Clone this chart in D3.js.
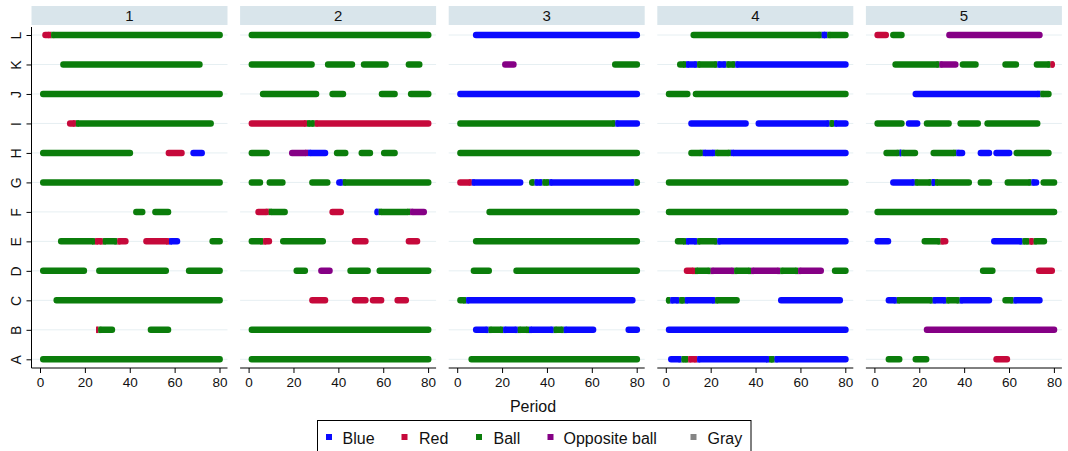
<!DOCTYPE html>
<html>
<head>
<meta charset="utf-8">
<script src="https://cdn.jsdelivr.net/npm/d3@7"></script>
<style>
  body { margin: 0; background: #fff; }
  text { font-family: "Liberation Sans", Arial, sans-serif; }
</style>
</head>
<body>
<div id="chart"></div>
<script>
const panels = ["1", "2", "3", "4", "5"];
const rows = ["A", "B", "C", "D", "E", "F", "G", "H", "I", "J", "K", "L"];
const xTicks = [0, 20, 40, 60, 80];
const legendNames = ["Blue", "Red", "Ball", "Opposite ball", "Gray"];
const legendCodes = ["b", "r", "g", "p", "y"];
const legendColors = ["#0a0aff", "#c6093b", "#0b7d0b", "#850085", "#858585"];

// [row, start, end, type]
const seg1 = [
  ["L", 1, 5, "r"], ["L", 5, 81.5, "g"],
  ["K", 9, 72.5, "g"],
  ["J", 0, 81.5, "g"],
  ["I", 12, 16, "r"], ["I", 16, 77.5, "g"],
  ["H", 0, 41.5, "g"], ["H", 56, 64.5, "r"], ["H", 67, 73.5, "b"],
  ["G", 0, 81.5, "g"],
  ["F", 41.5, 47, "g"], ["F", 50, 58.5, "g"],
  ["E", 8, 24.5, "g"], ["E", 24.5, 28, "r"], ["E", 28, 34.5, "g"], ["E", 34.5, 39.5, "r"],
  ["E", 46, 57.5, "r"], ["E", 57.5, 62.5, "b"], ["E", 75.5, 81.5, "g"],
  ["D", 0, 21, "g"], ["D", 25, 57.5, "g"], ["D", 65, 81.5, "g"],
  ["C", 6, 81.5, "g"],
  ["B", 25, 26, "r"], ["B", 26, 33.5, "g"], ["B", 48, 58.5, "g"],
  ["A", 0, 81.5, "g"]
];
const seg2 = [
  ["L", 0, 81.5, "g"],
  ["K", 0, 29.5, "g"], ["K", 34, 47.5, "g"], ["K", 50, 62.5, "g"], ["K", 70, 77.5, "g"],
  ["J", 5, 31.5, "g"], ["J", 36, 43.5, "g"], ["J", 58, 66.5, "g"], ["J", 71, 81.5, "g"],
  ["I", 0, 26, "r"], ["I", 26, 29.5, "g"], ["I", 29.5, 81.5, "r"],
  ["H", 0, 9.5, "g"], ["H", 18, 26.5, "p"], ["H", 26.5, 35.5, "b"], ["H", 38, 44.5, "g"],
  ["H", 49, 55.5, "g"], ["H", 59, 66.5, "g"],
  ["G", 0, 6.5, "g"], ["G", 8, 16.5, "g"], ["G", 27, 36.5, "g"], ["G", 39, 42, "b"], ["G", 42, 81.5, "g"],
  ["F", 3, 9, "r"], ["F", 9, 17.5, "g"], ["F", 36, 42.5, "r"], ["F", 56, 58, "b"],
  ["F", 58, 72, "g"], ["F", 72, 79.5, "p"],
  ["E", 0, 6.5, "g"], ["E", 6.5, 10.5, "r"], ["E", 14, 34.5, "g"], ["E", 46, 53.5, "r"], ["E", 70, 76.5, "r"],
  ["D", 20, 26.5, "g"], ["D", 31, 37.5, "p"], ["D", 44, 54.5, "g"], ["D", 57, 81.5, "g"],
  ["C", 27, 35.5, "r"], ["C", 46, 53.5, "r"], ["C", 54, 60.5, "r"], ["C", 65, 71.5, "r"],
  ["B", 0, 81.5, "g"],
  ["A", 0, 81.5, "g"]
];
const seg3 = [
  ["L", 7, 81.5, "b"],
  ["K", 20, 26.5, "p"], ["K", 69, 81.5, "g"],
  ["J", 0, 81.5, "b"],
  ["I", 0, 70.5, "g"], ["I", 70.5, 81.5, "b"],
  ["H", 0, 81.5, "g"],
  ["G", 0, 6.5, "r"], ["G", 6.5, 29.5, "b"], ["G", 32, 34.5, "g"], ["G", 34.5, 38, "b"],
  ["G", 38, 41, "g"], ["G", 41, 79, "b"], ["G", 79, 81.5, "g"],
  ["F", 13, 81.5, "g"],
  ["E", 7, 81.5, "g"],
  ["D", 6, 15.5, "g"], ["D", 25, 81.5, "g"],
  ["C", 0, 4, "g"], ["C", 4, 79.5, "b"],
  ["B", 7, 14, "b"], ["B", 14, 20.5, "g"], ["B", 20.5, 27, "b"], ["B", 27, 32, "g"],
  ["B", 32, 43, "b"], ["B", 43, 47.5, "g"], ["B", 47.5, 62, "b"], ["B", 75, 81.5, "b"],
  ["A", 5, 81.5, "g"]
];
const seg4 = [
  ["L", 11, 69.5, "g"], ["L", 69.5, 72, "b"], ["L", 72, 81.5, "g"],
  ["K", 5, 9, "g"], ["K", 9, 14, "b"], ["K", 14, 23, "g"], ["K", 23, 27, "b"], ["K", 27, 31, "g"], ["K", 31, 81.5, "b"],
  ["J", 0, 11, "g"], ["J", 12, 81.5, "g"],
  ["I", 10, 37, "b"], ["I", 40, 73, "b"], ["I", 73, 75, "g"], ["I", 75, 81.5, "b"],
  ["H", 10, 16.5, "g"], ["H", 16.5, 22, "b"], ["H", 22, 29, "g"], ["H", 29, 81.5, "b"],
  ["G", 0, 81.5, "g"],
  ["F", 0, 81.5, "g"],
  ["E", 4, 9, "g"], ["E", 9, 14, "b"], ["E", 14, 23, "g"], ["E", 23, 81.5, "b"],
  ["D", 8, 13, "r"], ["D", 13, 20, "g"], ["D", 20, 30.5, "p"], ["D", 30.5, 38, "g"],
  ["D", 38, 51, "p"], ["D", 51, 59, "g"], ["D", 59, 70.5, "p"], ["D", 74, 81.5, "g"],
  ["C", 0, 2, "g"], ["C", 2, 6, "b"], ["C", 6, 8.5, "g"], ["C", 8.5, 22, "b"], ["C", 22, 33, "g"], ["C", 50, 79, "b"],
  ["B", 0, 81.5, "b"],
  ["A", 1, 7, "b"], ["A", 7, 10, "g"], ["A", 10, 14, "r"], ["A", 14, 46, "b"], ["A", 46, 48.5, "g"], ["A", 48.5, 81.5, "b"]
];
const seg5 = [
  ["L", 0, 6.5, "r"], ["L", 7, 13.5, "g"], ["L", 32, 75, "p"],
  ["K", 8, 29, "g"], ["K", 29, 37.5, "p"], ["K", 38, 46.5, "g"], ["K", 57, 64.5, "g"],
  ["K", 71, 78.5, "g"], ["K", 78.5, 80.5, "r"],
  ["J", 17, 74, "b"], ["J", 74, 79, "g"],
  ["I", 0, 13.5, "g"], ["I", 14, 20.5, "b"], ["I", 22, 34.5, "g"], ["I", 37, 47.5, "g"], ["I", 49, 74, "g"],
  ["H", 4, 11.3, "g"], ["H", 11.3, 12, "b"], ["H", 12, 19.5, "g"], ["H", 25, 36.5, "g"], ["H", 36.5, 40.5, "b"],
  ["H", 46, 52.5, "b"], ["H", 53, 61.5, "b"], ["H", 62, 79, "g"],
  ["G", 7, 18, "b"], ["G", 18, 25.5, "g"], ["G", 25.5, 27, "b"], ["G", 27, 43.5, "g"], ["G", 46, 52.5, "g"],
  ["G", 58, 70, "g"], ["G", 70, 73.5, "b"], ["G", 74, 81.5, "g"],
  ["F", 0, 81.5, "g"],
  ["E", 0, 7.5, "b"], ["E", 21, 29.5, "g"], ["E", 29.5, 33, "r"], ["E", 52, 66, "b"], ["E", 66, 69, "g"],
  ["E", 69, 71, "r"], ["E", 71, 77, "g"],
  ["D", 47, 54, "g"], ["D", 72, 80.5, "r"],
  ["C", 5, 10, "b"], ["C", 10, 26, "g"], ["C", 26, 32, "b"], ["C", 32, 38, "g"], ["C", 38, 52.5, "b"],
  ["C", 57, 62, "g"], ["C", 62, 75, "b"],
  ["B", 22, 81.5, "p"],
  ["A", 5, 12.5, "g"], ["A", 17, 24.5, "g"], ["A", 53, 60.5, "r"]
];
const panelSegs = [seg1, seg2, seg3, seg4, seg5];

const W = 1068, H = 451;
const svg = d3.select("#chart").append("svg").attr("width", W).attr("height", H);

const panelW = 196, panelStep = 208.6, firstLeft = 31.5;
const stripTop = 6, stripH = 19, plotTop = 27, axisY = 368;
const barH = 6.5;

const color = d3.scaleOrdinal().domain(legendCodes).range(legendColors);
const y = d3.scalePoint().domain(rows).range([359.3, 35]);
const x = d3.scaleLinear().domain([0, 80]).range([8.5, 188]);

panels.forEach(function(p, i) {
  const left = firstLeft + i * panelStep;
  const g = svg.append("g").attr("transform", `translate(${left},0)`);

  // strip
  g.append("rect")
    .attr("x", 0).attr("y", stripTop)
    .attr("width", panelW).attr("height", stripH)
    .attr("fill", "#d9e5eb");
  g.append("text")
    .attr("x", panelW / 2).attr("y", stripTop + stripH / 2 + 5.5)
    .attr("text-anchor", "middle")
    .attr("font-size", 15)
    .attr("fill", "#111")
    .text(p);

  // gridlines
  g.selectAll("line.grid")
    .data(rows)
    .join("line")
      .attr("class", "grid")
      .attr("x1", 0).attr("x2", panelW)
      .attr("y1", d => y(d)).attr("y2", d => y(d))
      .attr("stroke", "#e6eff2")
      .attr("stroke-width", 1);

  // bars
  const segs = panelSegs[i];
  segs.forEach(function(s, k) {
    const prev = segs[k - 1], next = segs[k + 1];
    const joinL = prev && prev[0] === s[0] && prev[2] === s[1];
    const joinR = next && next[0] === s[0] && next[1] === s[2];
    const x0 = x(s[1]), x1 = x(s[2]), yc = y(s[0]);
    g.append("rect")
      .attr("x", x0).attr("y", yc - barH / 2)
      .attr("width", x1 - x0).attr("height", barH)
      .attr("rx", 3)
      .attr("fill", color(s[3]));
    if (joinL)
      g.append("rect").attr("x", x0).attr("y", yc - barH / 2)
        .attr("width", Math.min(3, x1 - x0)).attr("height", barH).attr("fill", color(s[3]));
    if (joinR)
      g.append("rect").attr("x", Math.max(x0, x1 - 3)).attr("y", yc - barH / 2)
        .attr("width", Math.min(3, x1 - x0)).attr("height", barH).attr("fill", color(s[3]));
  });

  // x axis
  const xa = g.append("g")
    .attr("transform", `translate(0,${axisY})`)
    .call(d3.axisBottom(x).tickValues(xTicks).tickSize(5).tickPadding(4));
  xa.select(".domain").attr("d", `M0,0H${panelW}`).attr("stroke", "#000");
  xa.selectAll(".tick line").attr("stroke", "#000");
  xa.selectAll(".tick text")
    .attr("font-size", 13.5)
    .attr("font-family", "Liberation Sans, Arial, sans-serif")
    .attr("fill", "#111");

  // y axis (first panel only)
  if (i === 0) {
    const ya = g.append("g")
      .call(d3.axisLeft(y).tickSize(5).tickPadding(0));
    ya.select(".domain").attr("d", `M0,${plotTop}V${axisY}`).attr("stroke", "#000");
    ya.selectAll(".tick line").attr("stroke", "#000");
    ya.selectAll(".tick text")
      .attr("font-size", 14)
      .attr("font-family", "Liberation Sans, Arial, sans-serif")
      .attr("fill", "#111")
      .attr("text-anchor", "middle")
      .attr("dy", null)
      .attr("x", null)
      .attr("transform", "translate(-16,0) rotate(-90)")
      .attr("y", 5);
  }
});

// x title
svg.append("text")
  .attr("x", 533).attr("y", 412)
  .attr("text-anchor", "middle")
  .attr("font-size", 16)
  .attr("fill", "#111")
  .text("Period");

// legend
const legend = svg.append("g");
legend.append("rect")
  .attr("x", 317.5).attr("y", 420.5)
  .attr("width", 433.5).attr("height", 40)
  .attr("fill", "#fff")
  .attr("stroke", "#000")
  .attr("stroke-width", 1);

const markerX = [326, 401.5, 476, 547.5, 690.5];
const labelX = [342.5, 419, 493.5, 563.5, 707.5];
const items = legend.selectAll("g.item")
  .data(legendNames)
  .join("g")
    .attr("class", "item");
items.append("rect")
  .attr("x", (d, k) => markerX[k]).attr("y", 434)
  .attr("width", 6).attr("height", 6)
  .attr("fill", (d, k) => legendColors[k]);
items.append("text")
  .attr("x", (d, k) => labelX[k]).attr("y", 443.5)
  .attr("font-size", 16)
  .attr("fill", "#111")
  .text(d => d);
</script>
</body>
</html>
